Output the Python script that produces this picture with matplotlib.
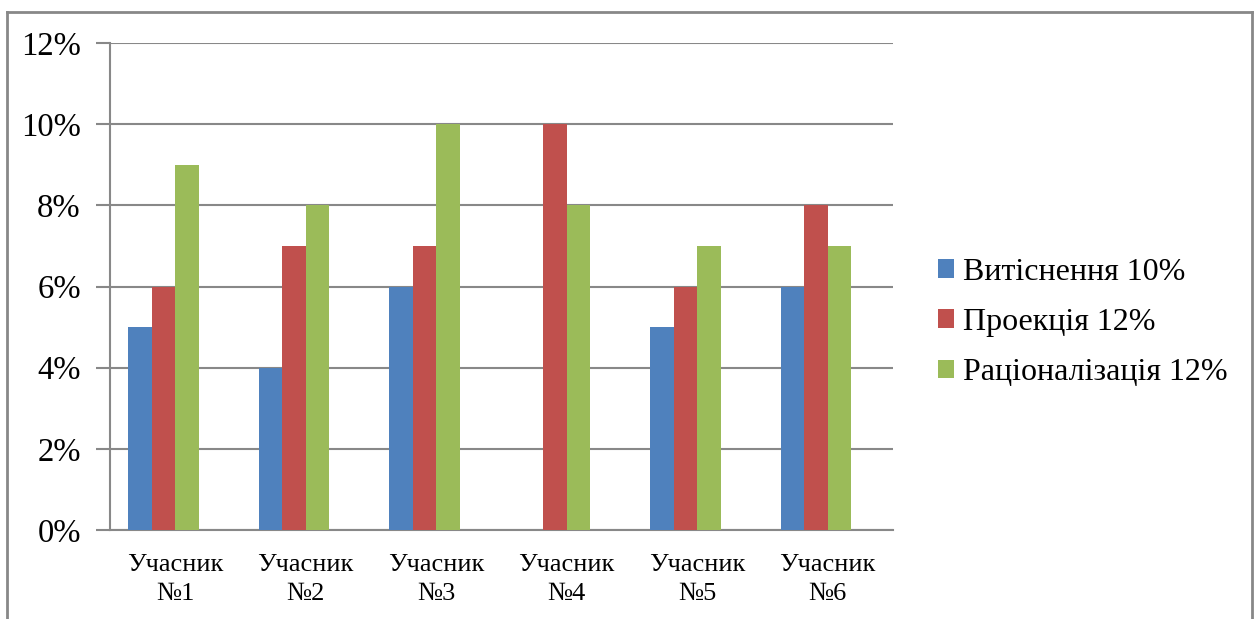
import matplotlib
matplotlib.use("Agg")
import matplotlib.pyplot as plt
from matplotlib.lines import Line2D
import numpy as np

categories = ["Учасник\n№1", "Учасник\n№2", "Учасник\n№3", "Учасник\n№4", "Учасник\n№5", "Учасник\n№6"]
series_names = ["Витіснення 10%", "Проекція 12%", "Раціоналізація 12%"]
vytisnennia = [5, 4, 6, 0, 5, 6]
proektsiia = [6, 7, 7, 10, 6, 8]
ratsionalizatsiia = [9, 8, 10, 8, 7, 7]
y_ticks = [0, 2, 4, 6, 8, 10, 12]
colors = ["#4F81BD", "#C0504D", "#9BBB59"]

plt.rcParams['font.family'] = ['Liberation Serif', 'DejaVu Serif']

W, H = 1257, 619
fig = plt.figure(figsize=(W / 100, H / 100), dpi=100)
ax = fig.add_axes([110 / W, (H - 530) / H, 783 / W, 487 / H])

x = np.arange(len(categories))
bw = 0.18
offsets = [-1.5, -0.5, 0.5]
for vals, off, col, name in zip([vytisnennia, proektsiia, ratsionalizatsiia], offsets, colors, series_names):
    ax.bar(x + off * bw, vals, width=bw, color=col, label=name, zorder=3)

ax.set_xlim(-0.5, len(categories) - 0.5)
ax.set_ylim(0, 12)
ax.set_yticks(y_ticks)
ax.set_yticklabels([f"{v}%" for v in y_ticks], fontsize=23.5)
ax.set_xticks(x)
ax.set_xticklabels(categories, fontsize=19, linespacing=1.45)
ax.tick_params(axis='x', length=0, pad=17)
ax.tick_params(axis='y', length=10, width=1.5, color="#888888", pad=11)
ax.yaxis.grid(True, color="#888888", linewidth=1.5, zorder=0)
for s in ["top", "right"]:
    ax.spines[s].set_visible(False)
for s in ["left", "bottom"]:
    ax.spines[s].set_color("#888888")
    ax.spines[s].set_linewidth(1.5)
ax.set_axisbelow(True)

leg = fig.legend(loc="upper left", bbox_to_anchor=(925 / W, 1 - 245 / H), frameon=False,
                 fontsize=23, handlelength=0.5, handleheight=0.5, handletextpad=0.3,
                 labelspacing=0.66, borderaxespad=0)

# outer chart frame
fc = "#888888"
fig.add_artist(Line2D([7 / W, 1252 / W], [1 - 12 / H, 1 - 12 / H], transform=fig.transFigure, color=fc, lw=2))
fig.add_artist(Line2D([7 / W, 7 / W], [0, 1 - 12 / H], transform=fig.transFigure, color=fc, lw=2))
fig.add_artist(Line2D([1252 / W, 1252 / W], [0, 1 - 12 / H], transform=fig.transFigure, color=fc, lw=2))

fig.savefig("out.png", dpi=100, facecolor="white")
